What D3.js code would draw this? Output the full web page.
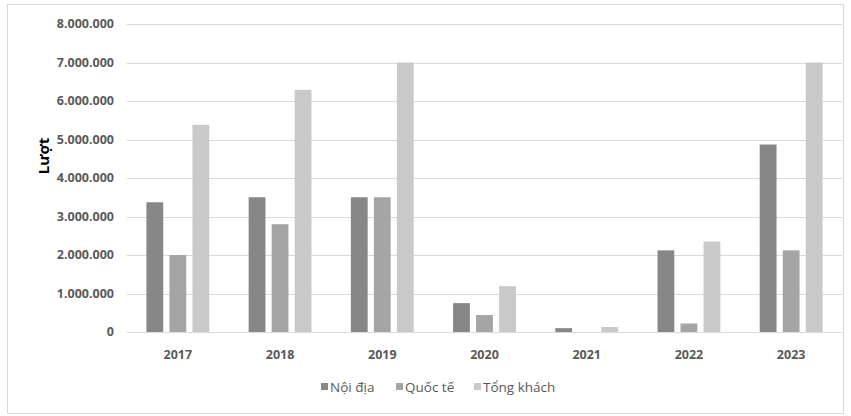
<!DOCTYPE html>
<html>
<head>
<meta charset="utf-8">
<script src="https://cdn.jsdelivr.net/npm/d3@7"></script>
<style>
  body { margin: 0; background: #fff; }
  text { font-family: "Open Sans", "Liberation Sans", sans-serif; fill: #595959; }
</style>
</head>
<body>
<div id="chart"></div>
<script>
const years = ['2017', '2018', '2019', '2020', '2021', '2022', '2023'];
const seriesNames = ['Nội địa', 'Quốc tế', 'Tổng khách'];
const noiDia = [3370000, 3500000, 3500000, 750000, 100000, 2120000, 4870000];
const quocTe = [2000000, 2800000, 3500000, 440000, 0, 220000, 2120000];
const tongKhach = [5380000, 6290000, 7000000, 1190000, 130000, 2350000, 7000000];
const yTicks = [0, 1000000, 2000000, 3000000, 4000000, 5000000, 6000000, 7000000, 8000000];
const colors = ['#878787', '#a5a5a5', '#c9c9c9'];

const width = 851, height = 416;
const margin = { top: 24, right: 9, bottom: 84, left: 127 };

const svg = d3.select('#chart').append('svg')
    .attr('width', width)
    .attr('height', height);

// outer frame
svg.append('rect')
    .attr('x', 7.5).attr('y', 4.5)
    .attr('width', 836).attr('height', 409)
    .attr('fill', 'none')
    .attr('stroke', '#d9d9d9');

const plotW = width - margin.left - margin.right;
const plotH = height - margin.top - margin.bottom;
const g = svg.append('g').attr('transform', `translate(${margin.left},${margin.top})`);

const x = d3.scaleBand().domain(years).range([0, plotW]).paddingInner(0.385).paddingOuter(0.19);
const series = [noiDia, quocTe, tongKhach];
const xs = d3.scaleBand().domain(seriesNames).range([0, x.bandwidth()]).paddingInner(0.27);
const y = d3.scaleLinear().domain([0, 8000000]).range([plotH, 0]);

const fmt = d => d3.format(',')(d).replace(/,/g, '.');

// gridlines
g.selectAll('.grid').data(yTicks).join('line')
    .attr('x1', 0).attr('x2', plotW)
    .attr('y1', d => Math.round(y(d)) + 0.5).attr('y2', d => Math.round(y(d)) + 0.5)
    .attr('stroke', '#d9d9d9')
    .attr('stroke-width', 1);

// y labels
g.selectAll('.ylab').data(yTicks).join('text')
    .attr('x', -13)
    .attr('y', d => y(d))
    .attr('dy', '0.35em')
    .attr('text-anchor', 'end')
    .style('font-size', '12.5px')
    .style('font-weight', 'bold')
    .text(fmt);

// bars
seriesNames.forEach((name, si) => {
    g.selectAll('.bar' + si).data(series[si]).join('rect')
        .attr('x', (d, i) => x(years[i]) + xs(name))
        .attr('y', d => y(d))
        .attr('width', xs.bandwidth())
        .attr('height', d => y(0) - y(d))
        .attr('fill', colors[si]);
});

// x labels
g.selectAll('.xlab').data(years).join('text')
    .attr('x', d => x(d) + x.bandwidth() / 2)
    .attr('y', plotH + 27)
    .attr('text-anchor', 'middle')
    .style('font-size', '12.5px')
    .style('font-weight', 'bold')
    .text(d => d);

// axis title
svg.append('text')
    .attr('transform', 'translate(49,156) rotate(-90)')
    .attr('text-anchor', 'middle')
    .style('font-size', '15px')
    .style('font-weight', 'bold')
    .style('fill', '#000')
    .text('Lượt');

// legend
const legendX = [321, 396, 474];
const legend = svg.append('g');
seriesNames.forEach((name, i) => {
    legend.append('rect')
        .attr('x', legendX[i]).attr('y', 383)
        .attr('width', 7).attr('height', 7)
        .attr('fill', colors[i]);
    legend.append('text')
        .attr('x', legendX[i] + 9).attr('y', 387)
        .attr('dy', '0.35em')
        .style('font-size', '13.5px')
        .text(name);
});
</script>
</body>
</html>
